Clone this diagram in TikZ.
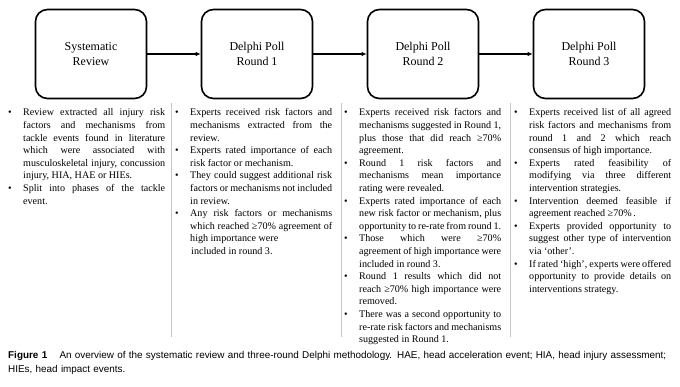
\documentclass[tikz,border=0pt]{standalone}
\usepackage{fontspec}
\setmainfont{Liberation Serif}
\newfontfamily\capfont{Liberation Sans}
\usepackage{enumitem}
\usetikzlibrary{arrows.meta}
\setlist[itemize]{label=\textbullet, leftmargin=15pt, labelwidth=5pt, labelsep=10pt, align=left,
    itemsep=0pt, topsep=0pt, parsep=0pt, partopsep=0pt}
\hyphenpenalty=10000
\exhyphenpenalty=10000
\tolerance=9999

\begin{document}
\begin{tikzpicture}
    [x=1pt, y=-1pt,
    node distance =166pt,
    phase/.style={draw, line width=1.6pt, rounded corners=12pt, minimum width=111pt, minimum height=89pt,
        align=center, font=\fontsize{12}{14.6}\selectfont},
    flow/.style={-{Latex[length=5pt, width=4.5pt]}, line width=1.1pt},
    notes/.style={anchor=north west, inner sep=0pt, text width=157pt, align=justify,
        font=\fontsize{10.1}{12.6}\selectfont},
    sepline/.style={draw=black!22, line width=1.5pt}]
        \useasboundingbox (0,0) rectangle (680,386);

        %% Phases
        \node[phase] (SR) at (91,54) {Systematic\\Review};
        \node[phase, right of = SR] (R1) {Delphi Poll\\Round 1};
        \node[phase, right of = R1] (R2) {Delphi Poll\\Round 2};
        \node[phase, right of = R2] (R3) {Delphi Poll\\Round 3};

        \draw[flow] (SR) to (R1);
        \draw[flow] (R1) to (R2);
        \draw[flow] (R2) to (R3);

        %% Separators
        \draw[sepline] (171.5,103) -- (171.5,337);
        \draw[sepline] (341.5,103) -- (341.5,337);
        \draw[sepline] (510.5,103) -- (510.5,337);

        %% Notes under each phase
        \node[notes] (SRnotes) at (8,103) {\begin{itemize}
            \item Review extracted all injury risk factors and mechanisms from tackle events found in literature which were associated with musculoskeletal injury, concussion injury, HIA, HAE or HIEs.
            \item Split into phases of the tackle\linebreak event.
        \end{itemize}};
        \node[notes] (R1notes) at (175,103) {\begin{itemize}
            \item Experts received risk factors and mechanisms extracted from the review.
            \item Experts rated importance of each risk factor or mechanism.
            \item They could suggest additional risk factors or mechanisms not included in review.
            \item Any risk factors or mechanisms which reached ≥70\% agreement of high importance were\newline
            \hspace*{1pt}included in round 3.
        \end{itemize}};
        \node[notes] (R2notes) at (344,103) {\begin{itemize}
            \item Experts received risk factors and mechanisms suggested in Round 1,\linebreak plus those that did reach ≥70\% agreement.
            \item Round 1 risk factors and mechanisms mean importance rating were revealed.
            \item Experts rated importance of each new risk factor or mechanism, plus opportunity to re-rate from round 1.
            \item Those which were ≥70\%\linebreak agreement of high importance were\linebreak included in round 3.
            \item Round 1 results which did not reach ≥70\% high importance were removed.
            \item There was a second opportunity to re-rate risk factors and mechanisms suggested in Round 1.
        \end{itemize}};
        \node[notes] (R3notes) at (514,103) {\begin{itemize}
            \item Experts received list of all agreed risk factors and mechanisms from\linebreak round 1 and 2 which reach consensus of high importance.
            \item Experts rated feasibility of modifying via three different intervention strategies.
            \item Intervention deemed feasible if agreement reached ≥70\%\,.
            \item Experts provided opportunity to suggest other type of intervention via `other'.
            \item If rated `high', experts were offered opportunity to provide details on interventions strategy.
        \end{itemize}};

        %% Caption
        \node[anchor=north west, inner sep=0pt, text width=670pt, align=left,
            font=\capfont\fontsize{9.9}{13.8}\selectfont] (caption) at (8,351)
            {\textbf{Figure 1}\hspace{9pt} An overview of the systematic review and three-round Delphi methodology. HAE, head acceleration event; HIA, head injury assessment;\\
            HIEs, head impact events.};
    \end{tikzpicture}
\end{document}
